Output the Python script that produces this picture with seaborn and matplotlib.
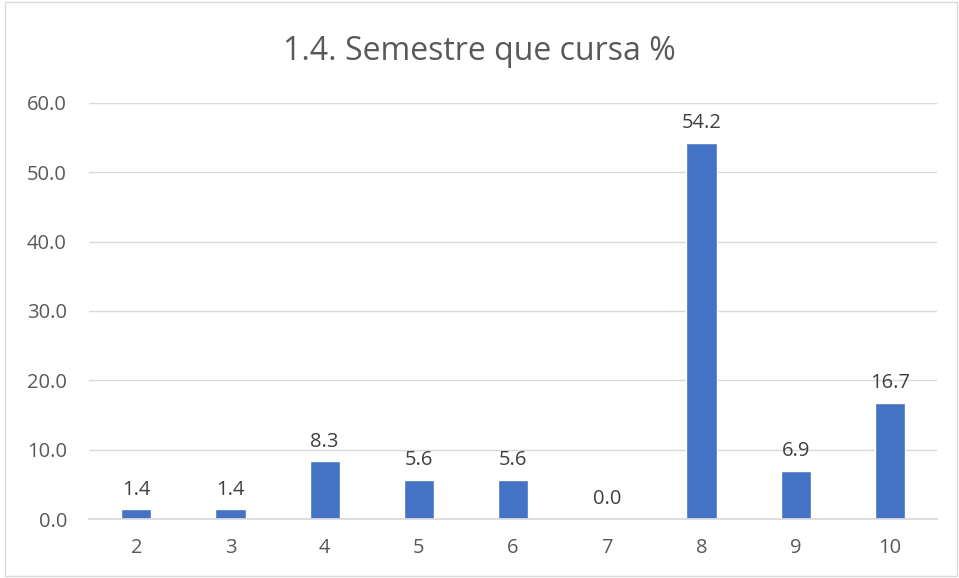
import matplotlib
matplotlib.use("Agg")
import matplotlib.pyplot as plt
import seaborn as sns
import pandas as pd

# Chart data
semestres = ["2", "3", "4", "5", "6", "7", "8", "9", "10"]
porcentajes = [1.4, 1.4, 8.3, 5.6, 5.6, 0.0, 54.2, 6.9, 16.7]
y_ticks = [0, 10, 20, 30, 40, 50, 60]

df = pd.DataFrame({"Semestre": semestres, "Porcentaje": porcentajes})

sns.set_theme(style="white")
plt.rcParams['font.family'] = ['Open Sans', 'DejaVu Sans']

fig = plt.figure(figsize=(9.59, 5.78), dpi=100)
ax = fig.add_axes([0.093, 0.102, 0.884, 0.720])

sns.barplot(data=df, x="Semestre", y="Porcentaje", color="#4472C4",
            width=0.32, saturation=1, ax=ax)

# value labels
for i, v in enumerate(porcentajes):
    ax.annotate(f"{v:.1f}", (i, v), xytext=(0, 7), textcoords="offset points",
                ha="center", va="bottom", fontsize=14.5, color="#404040")

ax.set_ylim(0, 60)
ax.set_yticks(y_ticks)
ax.set_yticklabels([f"{t:.1f}" for t in y_ticks])
ax.set_xlim(-0.5, len(semestres) - 0.5)
ax.yaxis.grid(True, color="#D9D9D9", linewidth=1)
ax.set_axisbelow(True)
ax.set_xlabel("")
ax.set_ylabel("")
ax.tick_params(axis="both", labelsize=14.5, colors="#595959", length=0)
ax.tick_params(axis="y", pad=16)
ax.tick_params(axis="x", pad=14)

for side in ["top", "right", "left"]:
    ax.spines[side].set_visible(False)
ax.spines["bottom"].set_color("#D9D9D9")

fig.suptitle("1.4. Semestre que cursa %", fontsize=23, color="#595959", y=0.94)

# outer border like the Excel chart frame
border = plt.Rectangle((0.005, 0.004), 0.993, 0.993, transform=fig.transFigure,
                       fill=False, edgecolor="#D9D9D9", linewidth=1)
fig.patches.append(border)

fig.savefig("out.png", dpi=100)
